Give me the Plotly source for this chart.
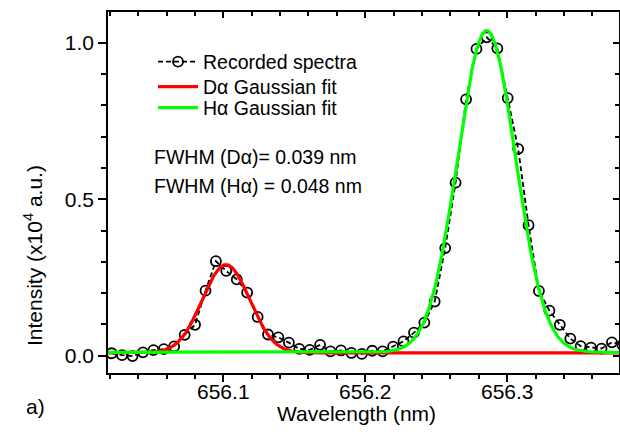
import numpy as np
import plotly.graph_objects as go

# Recorded spectrum (wavelength in nm, intensity in 1e4 a.u.)
wavelength = [656.0214, 656.0287, 656.0361, 656.0434, 656.0508, 656.0581, 656.0654, 656.0728,
              656.0801, 656.0875, 656.0948, 656.1021, 656.1095, 656.1168, 656.1242, 656.1315,
              656.1388, 656.1462, 656.1535, 656.1609, 656.1682, 656.1755, 656.1829, 656.1902,
              656.1976, 656.2049, 656.2122, 656.2196, 656.2269, 656.2343, 656.2416, 656.2489,
              656.2563, 656.2636, 656.2710, 656.2783, 656.2856, 656.2930, 656.3003, 656.3077,
              656.3150, 656.3223, 656.3297, 656.3370, 656.3444, 656.3517, 656.3590, 656.3664,
              656.3737, 656.3811]
intensity = [0.008, 0.002, -0.001, 0.011, 0.018, 0.021, 0.030, 0.067,
             0.099, 0.208, 0.302, 0.271, 0.244, 0.202, 0.124, 0.068,
             0.059, 0.042, 0.022, 0.019, 0.035, 0.014, 0.017, 0.009,
             0.006, 0.016, 0.014, 0.029, 0.046, 0.074, 0.106, 0.173,
             0.344, 0.553, 0.819, 0.980, 1.017, 0.982, 0.823, 0.661,
             0.417, 0.207, 0.144, 0.099, 0.055, 0.031, 0.026, 0.023,
             0.043, 0.035]

# Gaussian fit parameters: [center, FWHM, amplitude, baseline]
d_alpha_fit = [656.1019, 0.039, 0.282, 0.009]
h_alpha_fit = [656.2855, 0.048, 1.028, 0.011]

x_range = [656.0188, 656.3787]
y_range = [-0.055, 1.098]
x_ticks = [656.1, 656.2, 656.3]
y_ticks = [0.0, 0.5, 1.0]

FONT = "Arial, Liberation Sans, sans-serif"

# plot-area pixel frame (for placing text)
L, R, T, B = 108, 619, 12, 373


def px(xp, yp):
    return (xp - L) / (R - L), (B - yp) / (B - T)


def gauss(xx, p):
    c, w, a, b = p
    s = w / (2 * np.sqrt(2 * np.log(2)))
    return b + a * np.exp(-0.5 * ((xx - c) / s) ** 2)


xf = np.linspace(x_range[0], x_range[1], 800)

fig = go.Figure()
fig.add_trace(go.Scatter(
    x=wavelength, y=intensity, mode="lines+markers", name="Recorded spectra",
    line=dict(color="black", width=1.8, dash="5px,3px"),
    marker=dict(symbol="circle-open", size=10, color="black", line=dict(width=1.8)),
    legend="legend",
))
fig.add_trace(go.Scatter(
    x=xf, y=gauss(xf, d_alpha_fit), mode="lines", name="Dα Gaussian fit",
    line=dict(color="#ff0000", width=3.2), legend="legend2",
))
fig.add_trace(go.Scatter(
    x=xf, y=gauss(xf, h_alpha_fit), mode="lines", name="Hα Gaussian fit",
    line=dict(color="#00ff00", width=3.2), legend="legend3",
))
fig.add_trace(go.Scatter(x=[x_range[0]], y=[y_range[0]], xaxis="x2", yaxis="y2",
                         mode="markers", marker=dict(opacity=0), showlegend=False,
                         hoverinfo="skip"))

axis_common = dict(showline=True, linecolor="black", linewidth=1.5, showgrid=False,
                   zeroline=False, tickcolor="black", tickwidth=1.5,
                   tickfont=dict(family=FONT, size=21, color="black"))

leg_x = (153 - L) / (R - L)
legend_rows = [62, 87, 108]
legends = {}
for i, row in enumerate(legend_rows):
    key = "legend" if i == 0 else f"legend{i + 1}"
    legends[key] = dict(x=leg_x, y=(B - (row - 19.5)) / (B - T), xanchor="left", yanchor="top",
                        bgcolor="rgba(0,0,0,0)", font=dict(family=FONT, size=19.5, color="black"),
                        itemwidth=40)

fig.update_layout(
    width=620, height=444,
    margin=dict(l=L, r=620 - R, t=T, b=444 - B),
    paper_bgcolor="white", plot_bgcolor="white",
    font=dict(family=FONT, size=19, color="black"),
    xaxis=dict(range=x_range, tickvals=x_ticks, ticktext=[f"{v:.1f}" for v in x_ticks],
               ticks="outside", ticklen=7, ticklabelstandoff=-8,
               minor=dict(dtick=0.02, tick0=656.0, ticks="outside", ticklen=4,
                          tickcolor="black", tickwidth=1.5),
               **axis_common),
    yaxis=dict(range=y_range, tickvals=y_ticks, ticktext=[f"{v:.1f}" for v in y_ticks],
               ticks="outside", ticklen=8,
               minor=dict(dtick=0.1, tick0=0, ticks="outside", ticklen=5,
                          tickcolor="black", tickwidth=1.5),
               **axis_common),
    xaxis2=dict(range=x_range, overlaying="x", side="top", anchor="y2",
                tickvals=x_ticks, showticklabels=False, ticks="inside", ticklen=6,
                minor=dict(dtick=0.02, tick0=656.0, ticks="inside", ticklen=4,
                           tickcolor="black", tickwidth=1.5),
                **axis_common),
    yaxis2=dict(range=y_range, overlaying="y", side="right", anchor="x2",
                tickvals=y_ticks, showticklabels=False, ticks="inside", ticklen=6,
                minor=dict(dtick=0.1, tick0=0, ticks="inside", ticklen=4,
                           tickcolor="black", tickwidth=1.5),
                **axis_common),
    showlegend=True,
    **legends,
)

annotations = [
    dict(text="Wavelength (nm)", x=356, y=413, angle=0),
    dict(text="Intensity (x10<sup>4</sup> a.u.)", x=33, y=256, angle=-90),
    dict(text="a)", x=35, y=406, angle=0),
]
for a in annotations:
    xx, yy = px(a["x"], a["y"])
    fig.add_annotation(text=a["text"], x=xx, y=yy, xref="paper", yref="paper",
                       showarrow=False, xanchor="center", yanchor="middle",
                       textangle=a["angle"],
                       font=dict(family=FONT, size=21, color="black"))

fwhm_texts = [("FWHM (Dα)= 0.039 nm", 157), ("FWHM (Hα) = 0.048 nm", 186)]
for t, yp in fwhm_texts:
    xx, yy = px(152, yp)
    fig.add_annotation(text=t, x=xx, y=yy, xref="paper", yref="paper",
                       showarrow=False, xanchor="left", yanchor="middle",
                       font=dict(family=FONT, size=19.5, color="black"))

fig.write_html("out.html")
